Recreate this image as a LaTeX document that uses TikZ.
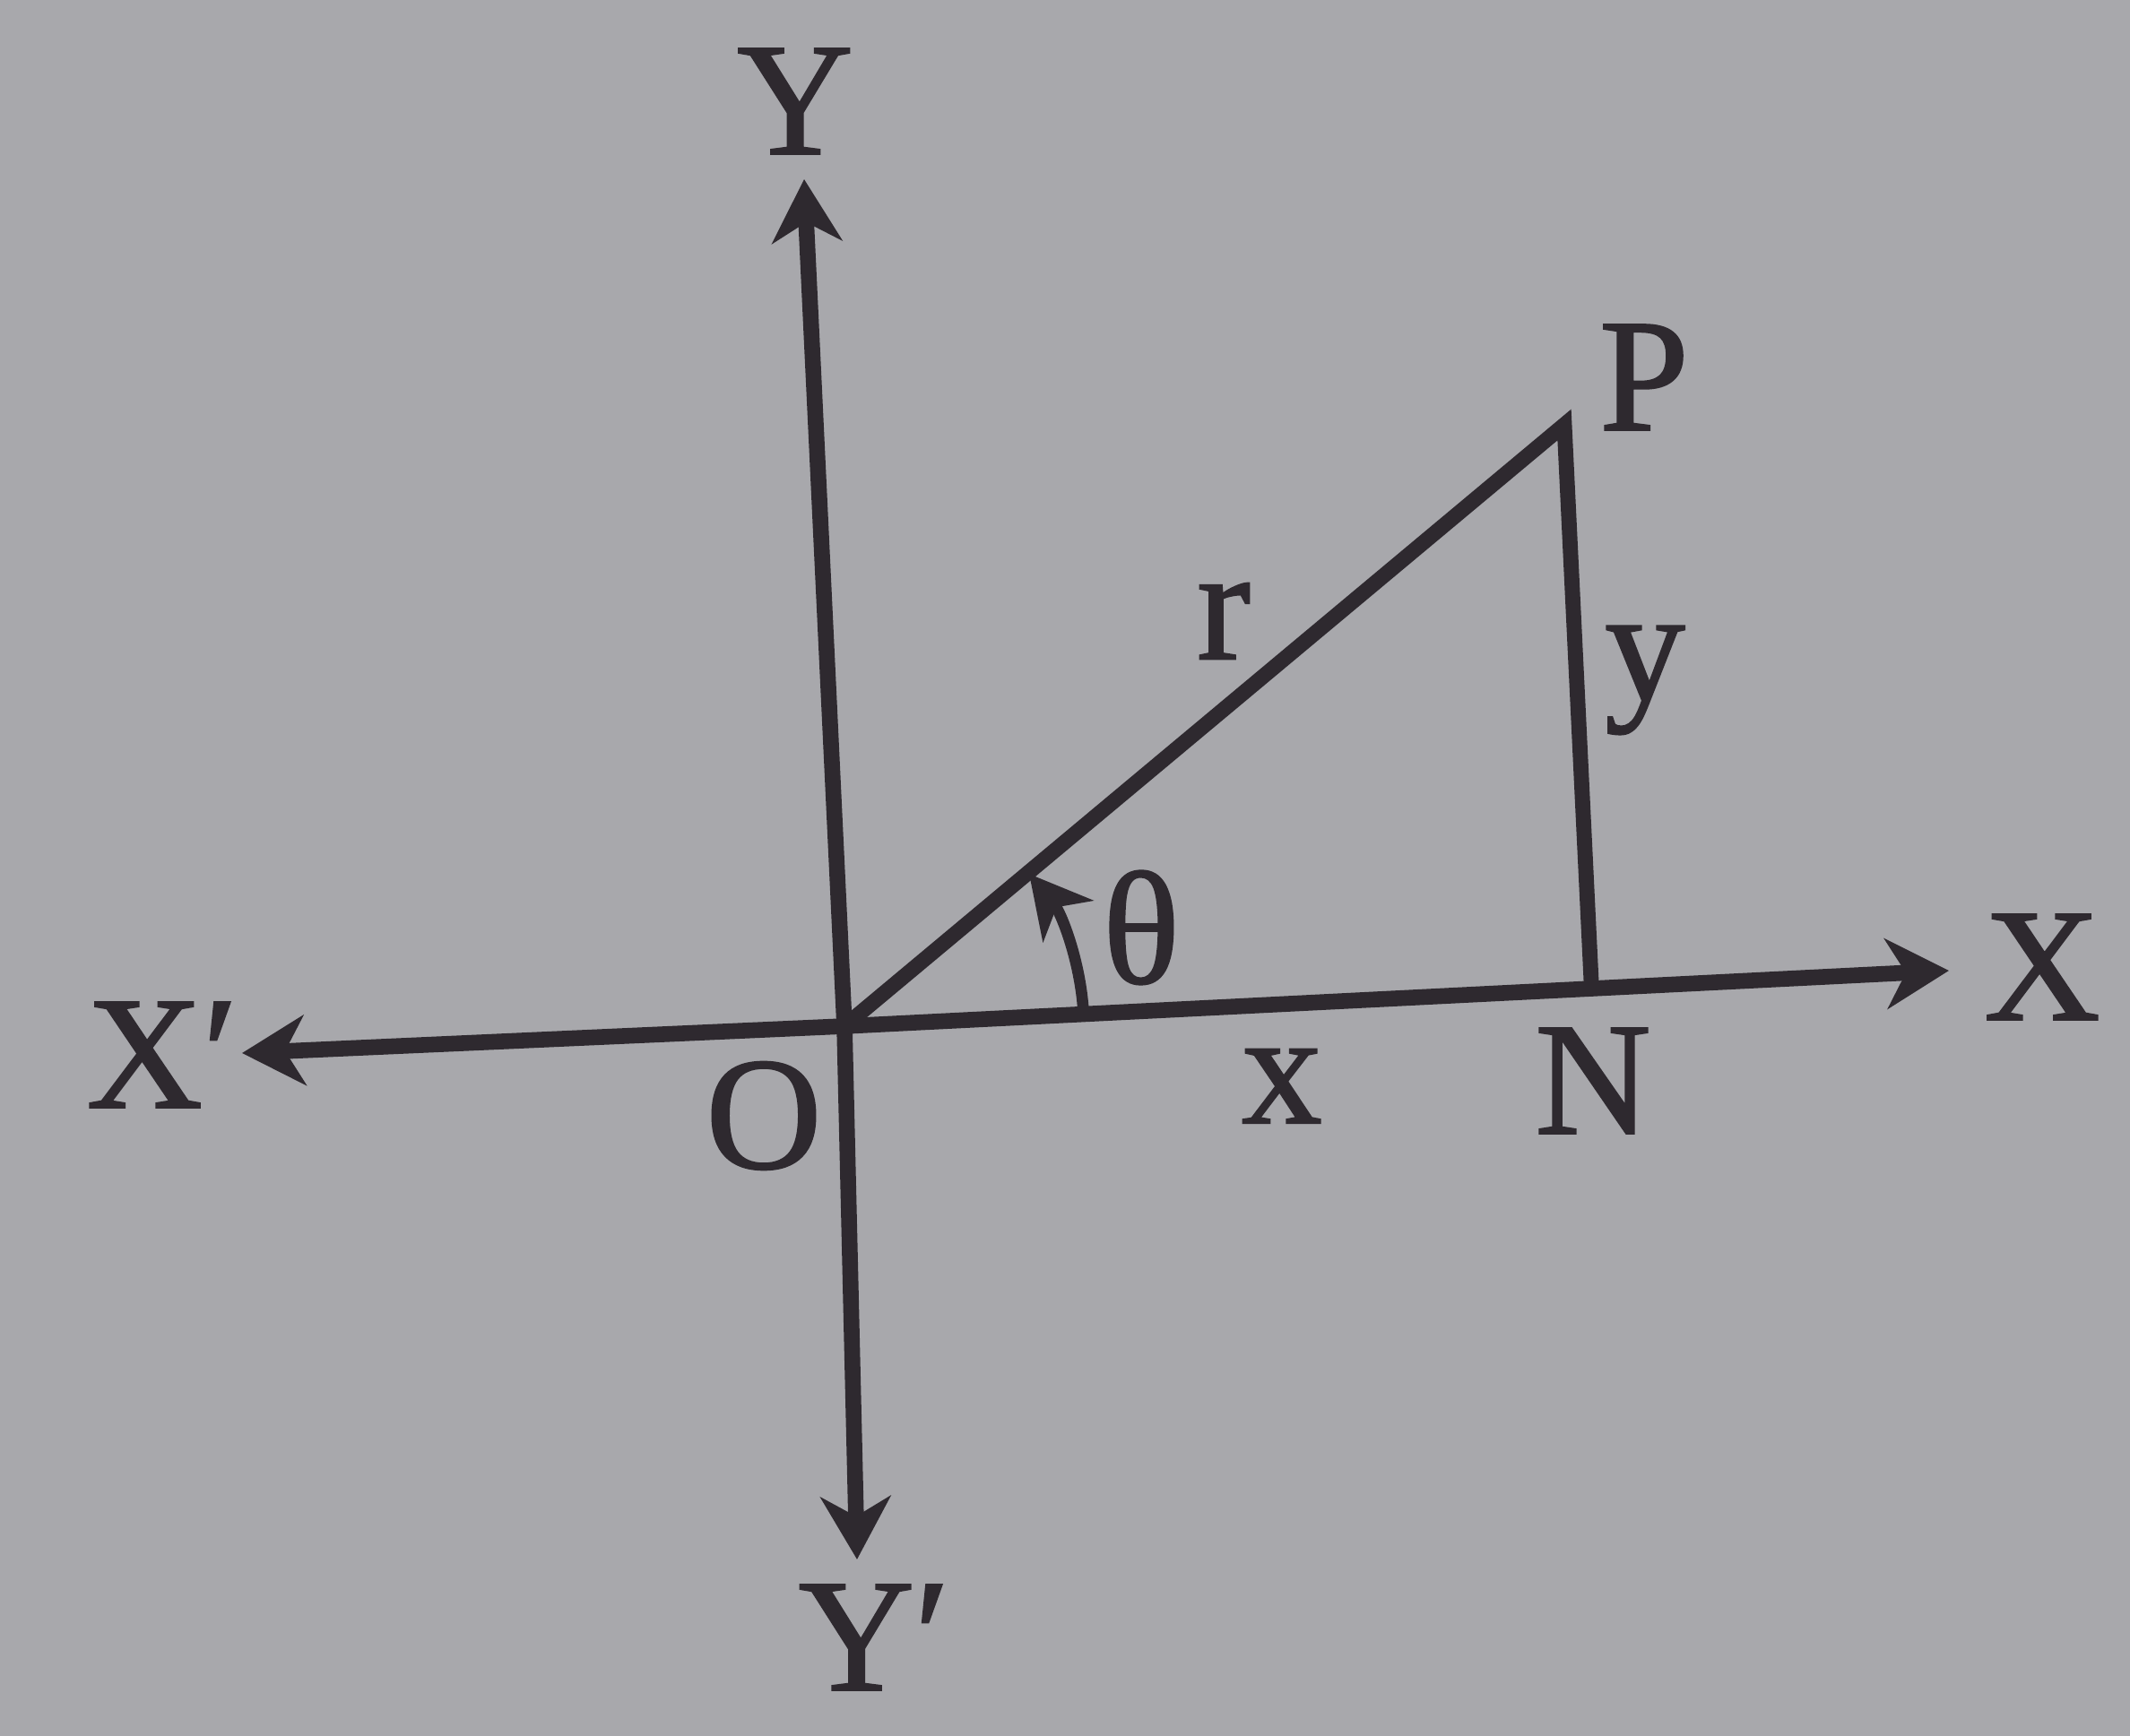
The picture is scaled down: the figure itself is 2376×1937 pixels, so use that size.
\documentclass[tikz,border=0pt]{standalone}
\usepackage{fontspec}
\setmainfont{Liberation Serif}
\newfontfamily\lblfont{Liberation Serif}[FakeBold=1.2]
\usetikzlibrary{arrows.meta,calc}
\definecolor{bg}{RGB}{168,168,172}
\definecolor{ink}{RGB}{46,41,47}
\begin{document}
\begin{tikzpicture}[x=0.01cm,y=0.01cm,
  axis/.style={draw=ink,line width=5pt,-{Stealth[length=0.7cm,width=0.78cm,inset=0.22cm]}},
  edge/.style={draw=ink,line width=4.8pt},
  lbl/.style={inner sep=0pt,text=ink,font=\lblfont\fontsize{51}{60}\selectfont}]
\fill[bg] (0,0) rectangle (2376,1937);
\useasboundingbox (0,0) rectangle (2376,1937);
\coordinate (O) at (942,792);
\coordinate (Ytip) at (897,1737);
\coordinate (Yptip) at (956,197);
\coordinate (Xptip) at (270,762);
\coordinate (Xtip) at (2174,854);
\coordinate (P) at (1745,1463);
\coordinate (N) at (1775,842);
\draw[axis] (O) -- (Ytip);
\draw[axis] (O) -- (Yptip);
\draw[axis] (O) -- (Xptip);
\draw[axis] (O) -- (Xtip);
\draw[edge,line join=miter] (O) -- (P) -- (N);
\draw[ink,line width=3.6pt,-{Stealth[length=0.68cm,width=0.72cm,inset=0.2cm]}]
  ($(O)+(3.5:267)$) arc[start angle=3.5,end angle=39.5,radius=267];
\node[lbl] (lY) at (887,1824) {Y};
\node[lbl] (lYp) at (975,110) {Y′};
\node[lbl] (lXp) at (181,760) {X′};
\node[lbl] (lX) at (2278,858) {X};
\node[lbl] (lP) at (1834,1516) {P};
\node[lbl] (lN) at (1777,731) {N};
\node[lbl] (lO) at (852,692) {O};
\node[lbl] (lx) at (1430,725) {x};
\node[lbl] (ly) at (1835,1178) {y};
\node[lbl] (lr) at (1365,1244) {r};
\node[lbl] (lth) at (1273,902) {θ};
\end{tikzpicture}
\end{document}
